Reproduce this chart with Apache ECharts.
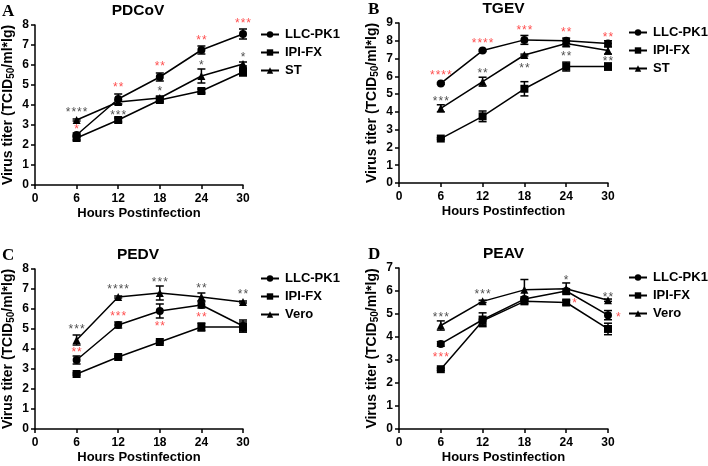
<!DOCTYPE html>
<html>
<head>
<meta charset="utf-8">
<script src="https://cdn.jsdelivr.net/npm/echarts@6/dist/echarts.min.js"></script>
<style>
  html, body { margin: 0; background: #fff; }
  #chart { width: 708px; height: 466px; }
</style>
</head>
<body>
<div id="chart"></div>
<script>
// hours post infection
const hours = [6, 12, 18, 24, 30];

// A - PDCoV
const llcA = [2.5, 4.3, 5.4, 6.75, 7.55];
const llcAErr = [0.1, 0.25, 0.2, 0.2, 0.25];
const ipiA = [2.35, 3.25, 4.25, 4.7, 5.65];
const ipiAErr = [0.1, 0.1, 0.1, 0.1, 0.2];
const stA = [3.25, 4.15, 4.35, 5.45, 6.05];
const stAErr = [0.05, 0.1, 0.1, 0.35, 0.1];
const starsABlack = [[6, 3.75, '****'], [12, 3.6, '***'], [18, 4.8, '*'], [24, 6.1, '*'], [30, 6.5, '*']];
const starsARed = [[6, 2.9, '*'], [12, 5.0, '**'], [18, 6.05, '**'], [24, 7.35, '**'], [30, 8.2, '***']];

// B - TGEV
const llcB = [5.6, 7.45, 8.05, 8.0, 7.85];
const llcBErr = [0.05, 0.05, 0.25, 0.15, 0.15];
const ipiB = [2.5, 3.75, 5.3, 6.55, 6.55];
const ipiBErr = [0.05, 0.3, 0.4, 0.25, 0.2];
const stB = [4.2, 5.7, 7.2, 7.85, 7.45];
const stBErr = [0.2, 0.25, 0.05, 0.15, 0.2];
const starsBBlack = [[6, 4.75, '***'], [12, 6.3, '**'], [18, 6.6, '**'], [24, 7.25, '**'], [30, 7.0, '**']];
const starsBRed = [[6, 6.2, '****'], [12, 8.0, '****'], [18, 8.75, '***'], [24, 8.6, '**'], [30, 8.35, '**']];

// C - PEDV
const llcC = [3.45, 5.2, 5.9, 6.2, 5.15];
const llcCErr = [0.2, 0.15, 0.35, 0.15, 0.3];
const ipiC = [2.75, 3.6, 4.35, 5.1, 5.1];
const ipiCErr = [0.05, 0.05, 0.05, 0.2, 0.25];
const veroC = [4.45, 6.6, 6.8, 6.6, 6.35];
const veroCErr = [0.25, 0.05, 0.35, 0.2, 0.05];
const starsCBlack = [[6, 5.1, '***'], [12, 7.1, '****'], [18, 7.45, '***'], [24, 7.15, '**'], [30, 6.85, '**']];
const starsCRed = [[6, 3.95, '**'], [12, 5.75, '***'], [18, 5.25, '**'], [24, 5.7, '**']];

// D - PEAV
const llcD = [3.7, 4.75, 5.65, 6.0, 4.95];
const llcDErr = [0.1, 0.3, 0.1, 0.1, 0.2];
const ipiD = [2.6, 4.7, 5.55, 5.5, 4.35];
const ipiDErr = [0.05, 0.2, 0.1, 0.1, 0.25];
const veroD = [4.5, 5.55, 6.05, 6.1, 5.6];
const veroDErr = [0.2, 0.05, 0.45, 0.25, 0.05];
const starsDBlack = [[6, 4.95, '***'], [12, 5.95, '***'], [24, 6.6, '*'], [30, 5.85, '**']];
const starsDRed = [[6, 3.25, '***'], [25.2, 5.6, '*'], [31.5, 4.95, '*']];

const FONT = 'Liberation Sans, Arial, sans-serif';

const panels = [
  { title: 'PDCoV', letter: 'A', max: 8, third: 'ST',
    grid: { left: 33, top: 25, width: 210, height: 160 }, legend: { left: 260, top: 28 },
    lines: [[llcA, llcAErr], [ipiA, ipiAErr], [stA, stAErr]], black: starsABlack, red: starsARed },
  { title: 'TGEV', letter: 'B', max: 9, third: 'ST',
    grid: { left: 399, top: 23, width: 209, height: 160 }, legend: { left: 628, top: 26 },
    lines: [[llcB, llcBErr], [ipiB, ipiBErr], [stB, stBErr]], black: starsBBlack, red: starsBRed },
  { title: 'PEDV', letter: 'C', max: 8, third: 'Vero',
    grid: { left: 33, top: 269, width: 210, height: 160 }, legend: { left: 260, top: 272 },
    lines: [[llcC, llcCErr], [ipiC, ipiCErr], [veroC, veroCErr]], black: starsCBlack, red: starsCRed },
  { title: 'PEAV', letter: 'D', max: 7, third: 'Vero',
    grid: { left: 399, top: 268, width: 209, height: 161 }, legend: { left: 628, top: 271 },
    lines: [[llcD, llcDErr], [ipiD, ipiDErr], [veroD, veroDErr]], black: starsDBlack, red: starsDRed }
];

const symbols = ['circle', 'rect', 'triangle'];

function errorBars(i, values, errs) {
  return {
    type: 'custom',
    xAxisIndex: i, yAxisIndex: i,
    silent: true, z: 3,
    data: hours.map((h, k) => [h, values[k] - errs[k], values[k] + errs[k]]),
    renderItem: (params, api) => {
      const lo = api.coord([api.value(0), api.value(1)]);
      const hi = api.coord([api.value(0), api.value(2)]);
      const w = 4;
      const st = { stroke: '#000', lineWidth: 1.5 };
      return {
        type: 'group',
        children: [
          { type: 'line', shape: { x1: lo[0], y1: lo[1], x2: hi[0], y2: hi[1] }, style: st },
          { type: 'line', shape: { x1: lo[0] - w, y1: lo[1], x2: lo[0] + w, y2: lo[1] }, style: st },
          { type: 'line', shape: { x1: hi[0] - w, y1: hi[1], x2: hi[0] + w, y2: hi[1] }, style: st }
        ]
      };
    }
  };
}

function stars(i, data, color) {
  return {
    type: 'scatter',
    xAxisIndex: i, yAxisIndex: i,
    silent: true, clip: false, z: 5,
    symbolSize: 0.1,
    itemStyle: { color: 'transparent' },
    data: data,
    label: {
      show: true, position: 'inside', offset: [0, 3],
      // spread the asterisks a little, like the original figure
      formatter: p => p.value[2].split('').join('\u200a'),
      color: color, fontSize: 12, fontFamily: FONT
    }
  };
}

const title = [], grid = [], xAxis = [], yAxis = [], legend = [], series = [];

panels.forEach((p, i) => {
  const cx = p.grid.left + p.grid.width / 2;
  title.push({
    text: p.title, left: cx, top: p.grid.top - 22, textAlign: 'center', padding: 0,
    textStyle: { fontFamily: FONT, fontWeight: 'bold', fontSize: 15.5, color: '#000' }
  });
  title.push({
    text: p.letter, left: p.grid.left - 31, top: p.grid.top - 22, padding: 0,
    textStyle: { fontFamily: 'Liberation Serif, Times New Roman, serif', fontWeight: 'bold', fontSize: 17, color: '#000' }
  });
  grid.push(p.grid);
  xAxis.push({
    gridIndex: i, type: 'value', min: 0, max: 30, interval: 6,
    name: 'Hours Postinfection', nameLocation: 'middle', nameGap: 22,
    nameTextStyle: { fontFamily: FONT, fontWeight: 'bold', fontSize: 13, color: '#000' },
    axisLine: { lineStyle: { color: '#000', width: 1.5 } },
    axisTick: { length: 4, lineStyle: { color: '#000', width: 1.5 } },
    axisLabel: { margin: 8, fontFamily: FONT, fontWeight: 'bold', fontSize: 12, color: '#000' },
    splitLine: { show: false }
  });
  yAxis.push({
    gridIndex: i, type: 'value', min: 0, max: p.max, interval: 1,
    name: 'Virus titer (TCID{s|50}/ml*lg)', nameLocation: 'middle', nameGap: 19, nameRotate: 90,
    nameTextStyle: {
      fontFamily: FONT, fontWeight: 'bold', fontSize: 14, color: '#000',
      rich: { s: { fontFamily: FONT, fontWeight: 'bold', fontSize: 10, color: '#000', verticalAlign: 'bottom', padding: [6, 0, 0, 0] } }
    },
    axisLine: { show: true, lineStyle: { color: '#000', width: 1.5 } },
    axisTick: { show: true, length: 4, lineStyle: { color: '#000', width: 1.5 } },
    axisLabel: { margin: 6, fontFamily: FONT, fontWeight: 'bold', fontSize: 12, color: '#000' },
    splitLine: { show: false }
  });
  const names = ['LLC-PK1', 'IPI-FX', p.third];
  legend.push({
    data: names, orient: 'vertical', left: p.legend.left, top: p.legend.top, padding: 0,
    itemWidth: 18, itemHeight: 8, itemGap: 5, selectedMode: false,
    textStyle: { fontFamily: FONT, fontWeight: 'bold', fontSize: 13, color: '#000', padding: [0, 0, 0, 1] }
  });
  p.lines.forEach((pair, k) => {
    series.push(errorBars(i, pair[0], pair[1]));
    series.push({
      type: 'line', name: names[k], xAxisIndex: i, yAxisIndex: i,
      data: hours.map((h, j) => [h, pair[0][j]]),
      symbol: symbols[k], symbolSize: 8, z: 4,
      lineStyle: { color: '#000', width: 1.5 },
      itemStyle: { color: '#000' }
    });
  });
  series.push(stars(i, p.black, '#222'));
  series.push(stars(i, p.red, '#ff2020'));
});

const chart = echarts.init(document.getElementById('chart'));
chart.setOption({
  animation: false,
  backgroundColor: '#fff',
  title, grid, xAxis, yAxis, legend, series
});
</script>
</body>
</html>
